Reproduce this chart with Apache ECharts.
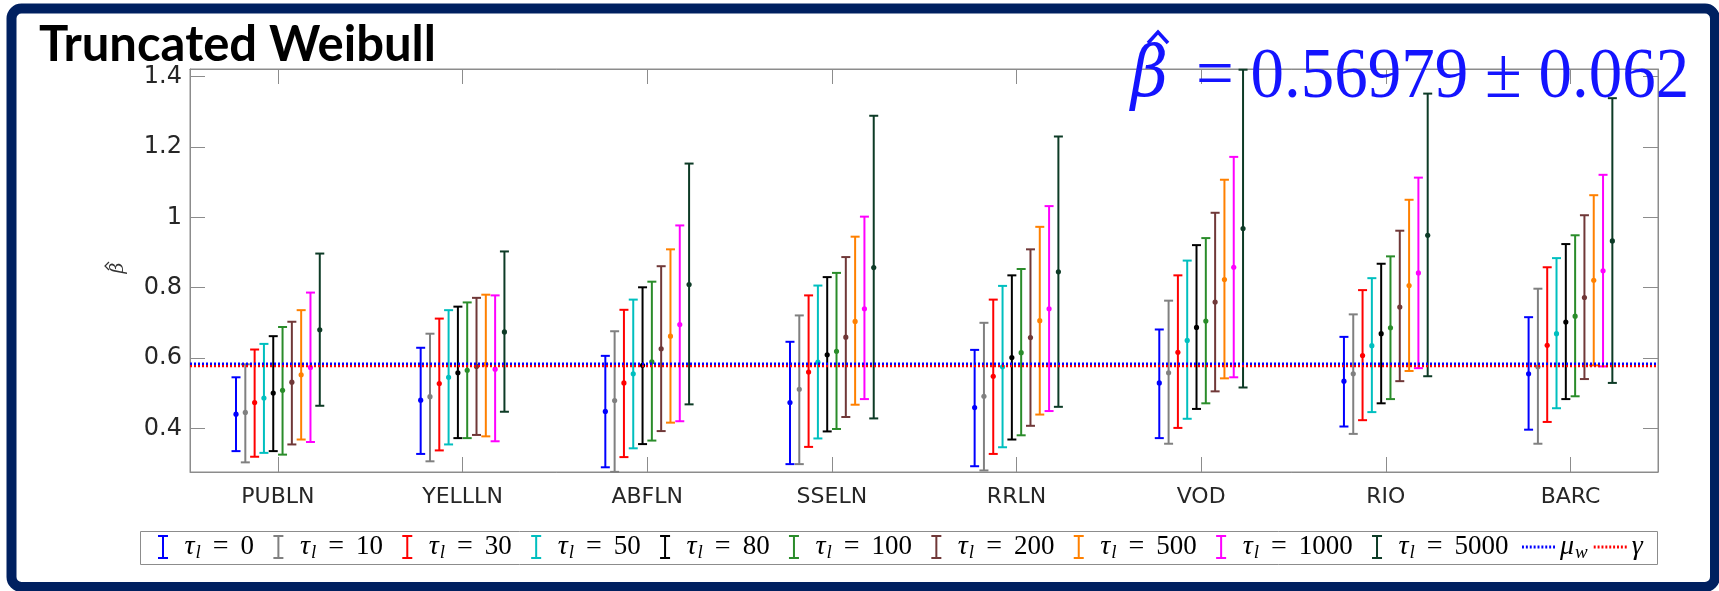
<!DOCTYPE html>
<html>
<head>
<meta charset="utf-8">
<script src="https://cdn.jsdelivr.net/npm/echarts@6/dist/echarts.min.js"></script>
<style>
  html, body { margin: 0; padding: 0; background: #fff; }
  #chart { width: 1719px; height: 591px; }
</style>
</head>
<body>
<div id="chart"></div>
<script>
// markets on the x axis, truncation levels are the series
const markets = ['PUBLN', 'YELLLN', 'ABFLN', 'SSELN', 'RRLN', 'VOD', 'RIO', 'BARC'];
const tauLevels = [0, 10, 30, 50, 80, 100, 200, 500, 1000, 5000];
const yTicks = [0.4, 0.6, 0.8, 1, 1.2, 1.4];
const muW = 0.5835;
const gammaLevel = 0.5765;

// point estimates, one row per tau level, one column per market
const midVals = [
  [0.440, 0.480, 0.448, 0.473, 0.459, 0.529, 0.534, 0.555],
  [0.445, 0.490, 0.479, 0.511, 0.491, 0.558, 0.555, 0.575],
  [0.473, 0.527, 0.529, 0.560, 0.548, 0.616, 0.607, 0.636],
  [0.486, 0.545, 0.555, 0.588, 0.575, 0.650, 0.635, 0.669],
  [0.500, 0.558, 0.579, 0.609, 0.601, 0.687, 0.669, 0.702],
  [0.508, 0.565, 0.589, 0.619, 0.615, 0.705, 0.686, 0.719],
  [0.531, 0.576, 0.626, 0.659, 0.658, 0.759, 0.745, 0.772],
  [0.552, 0.582, 0.662, 0.704, 0.706, 0.823, 0.806, 0.821],
  [0.573, 0.568, 0.695, 0.740, 0.740, 0.858, 0.842, 0.848],
  [0.680, 0.674, 0.809, 0.857, 0.845, 0.968, 0.949, 0.933]
];
// lower ends of the bars
const lowVals = [
  [0.335, 0.327, 0.289, 0.298, 0.292, 0.372, 0.405, 0.396],
  [0.303, 0.306, 0.276, 0.298, 0.280, 0.356, 0.384, 0.356],
  [0.319, 0.337, 0.318, 0.347, 0.327, 0.401, 0.423, 0.418],
  [0.330, 0.354, 0.343, 0.371, 0.346, 0.427, 0.446, 0.457],
  [0.335, 0.372, 0.355, 0.391, 0.368, 0.455, 0.471, 0.483],
  [0.325, 0.372, 0.365, 0.398, 0.380, 0.471, 0.483, 0.491],
  [0.354, 0.381, 0.392, 0.432, 0.407, 0.505, 0.534, 0.540],
  [0.368, 0.377, 0.416, 0.467, 0.439, 0.542, 0.563, 0.579],
  [0.361, 0.363, 0.420, 0.483, 0.449, 0.545, 0.571, 0.576],
  [0.464, 0.447, 0.468, 0.428, 0.461, 0.516, 0.548, 0.529]
];
// upper ends of the bars
const highVals = [
  [0.545, 0.629, 0.606, 0.646, 0.623, 0.681, 0.660, 0.716],
  [0.582, 0.669, 0.676, 0.721, 0.700, 0.763, 0.724, 0.797],
  [0.624, 0.712, 0.737, 0.778, 0.766, 0.835, 0.793, 0.858],
  [0.640, 0.736, 0.766, 0.806, 0.805, 0.877, 0.827, 0.884],
  [0.662, 0.746, 0.801, 0.830, 0.835, 0.921, 0.868, 0.924],
  [0.688, 0.758, 0.817, 0.842, 0.853, 0.941, 0.889, 0.949],
  [0.703, 0.771, 0.861, 0.887, 0.909, 1.013, 0.962, 1.006],
  [0.736, 0.780, 0.909, 0.945, 0.973, 1.107, 1.050, 1.063],
  [0.786, 0.778, 0.977, 1.002, 1.032, 1.172, 1.113, 1.121],
  [0.897, 0.903, 1.153, 1.289, 1.230, 1.420, 1.352, 1.339]
];

const colors = ['#0000ff', '#808080', '#ff0000', '#00bfbf', '#000000',
                '#2a8c2a', '#703838', '#ff8000', '#ff00ff', '#0d3b26'];
const axisGray = '#8c8c8c';
const labelColor = '#262626';
const noteBlue = '#1414ff';
const barStep = 0.0504;   // spacing between the bars of one group, in x units
const capHalf = 4.5;
const xMin = 0.524, xMax = 8.474;
const yMin = 0.2756, yMax = 1.422;

const barIcon = 'path://M0,0H10V2H6V22H10V24H0V22H4V2H0Z';
let dots = 'path://';
for (let i = 0; i < 9; i++) dots += 'M' + (i * 4) + ',0h2v3h-2z';

function errorBars(k) {
  const color = colors[k];
  return {
    name: 'tau' + tauLevels[k],
    type: 'custom',
    itemStyle: { color: color },
    z: 3,
    encode: { x: 0, y: [1, 2, 3] },
    data: markets.map((m, j) => [j + 1, lowVals[k][j], midVals[k][j], highVals[k][j]]),
    renderItem: function (params, api) {
      const shift = (k - 4.5) * barStep * api.size([1, 0])[0];
      const top = api.coord([api.value(0), api.value(3)]);
      const bot = api.coord([api.value(0), api.value(1)]);
      const ctr = api.coord([api.value(0), api.value(2)]);
      const x = top[0] + shift;
      const st = { stroke: color, lineWidth: 2 };
      return {
        type: 'group',
        children: [
          { type: 'line', shape: { x1: x, y1: top[1], x2: x, y2: bot[1] }, style: st },
          { type: 'line', shape: { x1: x - capHalf, y1: top[1], x2: x + capHalf, y2: top[1] }, style: st },
          { type: 'line', shape: { x1: x - capHalf, y1: bot[1], x2: x + capHalf, y2: bot[1] }, style: st },
          { type: 'circle', shape: { cx: x, cy: ctr[1], r: 2.6 }, style: { fill: color } }
        ]
      };
    }
  };
}

// horizontal reference level across the whole x range
function refLine(name, value, color, z) {
  return {
    name: name,
    type: 'line',
    z: z,
    symbol: 'none',
    silent: true,
    itemStyle: { color: color },
    lineStyle: { color: color, type: [2, 2], width: 2.3 },
    data: [[xMin, value], [xMax, value]]
  };
}

const legendText = {
  fontFamily: 'Liberation Serif', fontSize: 28, color: '#000',
  rich: {
    g: { fontFamily: 'Liberation Serif', fontStyle: 'italic', fontSize: 28 },
    s: { fontFamily: 'Liberation Serif', fontStyle: 'italic', fontSize: 19, padding: [11, 0, 0, 1] },
    e: { fontFamily: 'Liberation Serif', fontSize: 28, padding: [0, 12, 0, 12] },
    n: { fontFamily: 'Liberation Serif', fontSize: 27 }
  }
};

const xTickVals = markets.map((m, i) => i + 1);
const xBase = {
  type: 'value', min: xMin, max: xMax,
  splitLine: { show: false },
  axisLine: { show: true, onZero: false, lineStyle: { color: axisGray } },
  axisTick: { show: true, inside: true, length: 15, customValues: xTickVals, lineStyle: { color: axisGray } }
};
const yBase = {
  type: 'value', min: yMin, max: yMax,
  splitLine: { show: false },
  axisLine: { show: true, onZero: false, lineStyle: { color: axisGray } },
  axisTick: { show: true, inside: true, length: 15, customValues: yTicks, lineStyle: { color: axisGray } }
};

const chart = echarts.init(document.getElementById('chart'));
chart.setOption({
  backgroundColor: '#fff',
  animation: false,
  title: {
    text: 'Truncated Weibull',
    left: 34, top: 16,
    textStyle: { fontFamily: 'Lato', fontWeight: 'bold', fontSize: 49, color: '#000' }
  },
  grid: { left: 190, right: 61, top: 69, bottom: 119, show: true, borderColor: axisGray, borderWidth: 1 },
  xAxis: [
    Object.assign({}, xBase, {
      position: 'bottom',
      axisLabel: {
        customValues: xTickVals, formatter: v => markets[Math.round(v) - 1],
        color: labelColor, fontFamily: 'DejaVu Sans', fontSize: 22, margin: 14
      }
    }),
    Object.assign({}, xBase, { position: 'top', axisLabel: { show: false } })
  ],
  yAxis: [
    Object.assign({}, yBase, {
      position: 'left',
      axisLabel: {
        customValues: yTicks, formatter: v => String(v),
        color: labelColor, fontFamily: 'DejaVu Sans', fontSize: 24, margin: 8
      }
    }),
    Object.assign({}, yBase, { position: 'right', axisLabel: { show: false } })
  ],
  legend: [
    {
      left: 140, top: 529,
      padding: [4, 0, 4, 18],
      itemGap: 19.3,
      itemWidth: 33,
      itemHeight: 24,
      symbolKeepAspect: true,
      selectedMode: false,
      data: tauLevels.map(t => ({ name: 'tau' + t, icon: barIcon })),
      formatter: name => '{g|τ}{s|l}{e|=}{n|' + name.slice(3) + '}',
      textStyle: legendText
    },
    {
      left: 1522, top: 529,
      padding: [4, 0, 4, 0],
      itemGap: 6,
      itemWidth: 33,
      itemHeight: 24,
      symbolKeepAspect: true,
      selectedMode: false,
      data: [{ name: 'mu', icon: dots }, { name: 'gamma', icon: dots }],
      formatter: name => name === 'mu' ? '{g|μ}{s|w}' : '{g|γ}',
      textStyle: legendText
    }
  ],
  graphic: [
    {
      type: 'rect', silent: true, z: 100,
      shape: { x: 11.5, y: 8.5, width: 1703.5, height: 578.5, r: 10 },
      style: { fill: 'none', stroke: '#002060', lineWidth: 10 }
    },
    // legend frame
    {
      type: 'rect', silent: true, z: 1,
      shape: { x: 140.5, y: 531.5, width: 1517, height: 33 },
      style: { fill: '#fff', stroke: axisGray, lineWidth: 1 }
    },
    // y axis title: beta with a hat, turned to read upwards
    {
      type: 'group', silent: true, x: 118, y: 268, rotation: Math.PI / 2,
      children: [
        {
          type: 'text', x: 0, y: 0,
          style: { text: '\u03B2', fill: '#333', font: 'italic 19px "DejaVu Serif"', align: 'center', verticalAlign: 'middle' }
        },
        {
          type: 'polyline',
          shape: { points: [[-2, -9], [2, -13], [6, -9]] },
          style: { stroke: '#333', lineWidth: 1.2, fill: 'none' }
        }
      ]
    },
    {
      type: 'text', silent: true, z: 50,
      x: 1131, y: 77.5, scaleY: 1.12,
      style: {
        text: '\u03B2',
        fill: noteBlue,
        font: 'italic 64px "DejaVu Serif"',
        verticalAlign: 'middle',
        align: 'left'
      }
    },
    {
      type: 'polyline', silent: true, z: 50,
      shape: { points: [[1148, 43], [1158, 32], [1168, 43]] },
      style: { stroke: noteBlue, lineWidth: 3.5, fill: 'none', lineJoin: 'miter' }
    },
    {
      type: 'text', silent: true, z: 50,
      x: 1196, y: 77.5, scaleY: 1.08,
      style: {
        text: '= 0.56979 ± 0.062',
        fill: noteBlue,
        font: '67px "Liberation Serif"',
        verticalAlign: 'middle',
        align: 'left'
      }
    }
  ],
  series: tauLevels.map((t, k) => errorBars(k))
    .concat([refLine('mu', muW, '#0000ff', 6), refLine('gamma', gammaLevel, '#ff0000', 5)])
});
</script>
</body>
</html>
